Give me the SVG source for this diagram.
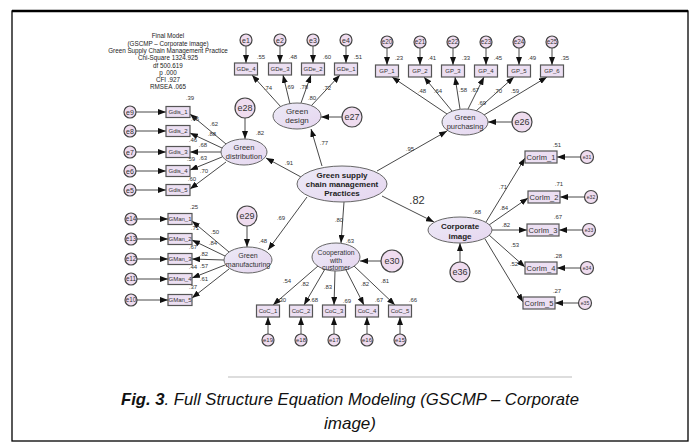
<svg xmlns="http://www.w3.org/2000/svg" width="692" height="442" viewBox="0 0 692 442">
<defs>
<linearGradient id="g" x1="0" y1="0" x2="1" y2="1"><stop offset="0" stop-color="#eceaf7"/><stop offset="1" stop-color="#e6d6ef"/></linearGradient>
<marker id="ah" viewBox="0 0 8 6" refX="8" refY="3" markerWidth="8" markerHeight="6" markerUnits="userSpaceOnUse" orient="auto"><path d="M0,0L8,3L0,6z" fill="#111"/></marker>
<style>
.bx{fill:#ecdff2;stroke:#555;stroke-width:1.2}
.el{fill:url(#g);stroke:#666;stroke-width:1}
.ec{fill:#efdcef;stroke:#444;stroke-width:1.2}
.ln{stroke:#333;stroke-width:0.9;fill:none;marker-end:url(#ah)}
text{font-family:"Liberation Sans",Arial,sans-serif;fill:#333;text-anchor:middle}
.v{font-size:6px}
.bl{font-size:6px}
.cl{font-size:7.5px}
.es{font-size:7px}
.eb{font-size:9px}
.nl{font-size:8px}
.bd{font-size:8px;font-weight:bold;fill:#222}
.st{font-size:6.3px;fill:#222}
.cap{font-size:17px;font-style:italic;fill:#111}
</style>
</defs>
<rect x="0" y="0" width="692" height="442" fill="#fff"/>
<rect x="12" y="11" width="676" height="430" fill="none" stroke="#000" stroke-width="1.3"/>
<line x1="12" y1="11" x2="688" y2="11" stroke="#000" stroke-width="2.5"/>

<g id="stats">
<text class="st" x="168" y="38.3">Final Model</text>
<text class="st" x="168" y="45.6">(GSCMP – Corporate image)</text>
<text class="st" x="168" y="52.9">Green Supply Chain Management Practice</text>
<text class="st" x="168" y="60.2">Chi-Square 1324.925</text>
<text class="st" x="168" y="67.5">df 500.619</text>
<text class="st" x="168" y="74.8">p .000</text>
<text class="st" x="168" y="82.1">CFI .927</text>
<text class="st" x="168" y="89.4">RMSEA .065</text>
</g>

<g id="connectors">
<path class="ln" d="M246,46V63"/><path class="ln" d="M280,46V63"/><path class="ln" d="M313,46V63"/><path class="ln" d="M346,46V63"/>
<path class="ln" d="M281,107L252,75"/><path class="ln" d="M290,104L283,75"/><path class="ln" d="M301,103L311,75"/><path class="ln" d="M311,106L340,75"/>
<path class="ln" d="M387,48V65"/><path class="ln" d="M420,48V65"/><path class="ln" d="M453,48V65"/><path class="ln" d="M486,48V65"/><path class="ln" d="M519,48V65"/><path class="ln" d="M552,48V65"/>
<path class="ln" d="M447,114L392,77"/><path class="ln" d="M452,111L424,77"/><path class="ln" d="M460,109L455,77"/><path class="ln" d="M468,109L484,77"/><path class="ln" d="M476,111L514,77"/><path class="ln" d="M484,115L547,77"/>
<path class="ln" d="M136,112H166"/><path class="ln" d="M136,131H166"/><path class="ln" d="M136,152H166"/><path class="ln" d="M136,171H166"/><path class="ln" d="M136,190H166"/>
<path class="ln" d="M226,144L190,114"/><path class="ln" d="M222,148L190,133"/><path class="ln" d="M221,152H190"/><path class="ln" d="M222,157L190,170"/><path class="ln" d="M226,162L190,189"/>
<path class="ln" d="M137,219H168"/><path class="ln" d="M137,239H168"/><path class="ln" d="M137,259H168"/><path class="ln" d="M137,279H168"/><path class="ln" d="M137,300H168"/>
<path class="ln" d="M229,252L192,221"/><path class="ln" d="M225,256L192,240"/><path class="ln" d="M224,260L192,259"/><path class="ln" d="M225,265L192,278"/><path class="ln" d="M229,269L192,298"/>
<path class="ln" d="M268,334V317"/><path class="ln" d="M301,334V317"/><path class="ln" d="M334,334V317"/><path class="ln" d="M367,334V317"/><path class="ln" d="M400,334V317"/>
<path class="ln" d="M318,266L273,305"/><path class="ln" d="M325,269L304,305"/><path class="ln" d="M335,271L334,305"/><path class="ln" d="M346,270L364,305"/><path class="ln" d="M354,266L395,305"/>
<path class="ln" d="M580.5,157H557"/><path class="ln" d="M584.5,197H560"/><path class="ln" d="M582.5,230H559"/><path class="ln" d="M580.5,268H557"/><path class="ln" d="M578.5,303H555"/>
<path class="ln" d="M486,222L525,158"/><path class="ln" d="M489,225L528,198"/><path class="ln" d="M492,230H527"/><path class="ln" d="M489,235L525,267"/><path class="ln" d="M485,239L523,302"/>
<path class="ln" d="M342,117H321"/><path class="ln" d="M512,122H488"/><path class="ln" d="M245,118V139"/><path class="ln" d="M247,226V247"/><path class="ln" d="M381,261H360"/><path class="ln" d="M460,262V243"/>
<path class="ln" d="M322,166L311,129"/><path class="ln" d="M377,171L447,131"/><path class="ln" d="M301,177L266,158"/><path class="ln" d="M307,197L268,250"/><path class="ln" d="M344,202L341,243"/><path class="ln" d="M382,196L434,222"/>
</g>

<g id="labels">
<text class="v" x="261" y="59">.55</text><text class="v" x="293" y="59">.48</text><text class="v" x="327" y="59">.60</text><text class="v" x="358" y="59">.51</text>
<text class="v" x="268" y="90">.74</text><text class="v" x="290" y="89">.69</text><text class="v" x="304" y="89">.78</text><text class="v" x="312" y="100">.80</text><text class="v" x="327" y="90">.72</text>
<text class="v" x="399" y="60">.23</text><text class="v" x="432" y="60">.41</text><text class="v" x="466" y="60">.33</text><text class="v" x="498" y="60">.45</text><text class="v" x="532" y="60">.49</text><text class="v" x="565" y="60">.35</text>
<text class="v" x="422" y="93">.48</text><text class="v" x="438" y="93">.64</text><text class="v" x="463" y="92">.58</text><text class="v" x="475" y="92">.67</text><text class="v" x="482" y="105">.69</text><text class="v" x="498" y="93">.70</text><text class="v" x="515" y="93">.59</text>
<text class="v" x="324" y="145">.77</text><text class="v" x="410" y="151">.95</text><text class="v" x="260" y="135">.82</text><text class="v" x="289" y="165">.91</text>
<text class="v" x="190" y="100">.39</text><text class="v" x="214" y="126">.62</text><text class="v" x="195" y="121">.45</text><text class="v" x="212" y="136">.88</text><text class="v" x="193" y="142">.46</text><text class="v" x="203" y="147">.68</text><text class="v" x="191" y="161">.59</text><text class="v" x="203" y="160">.63</text><text class="v" x="204" y="173">.70</text><text class="v" x="192" y="181">.60</text>
<text class="v" x="194" y="209">.25</text><text class="v" x="215" y="234">.50</text><text class="v" x="195" y="230">.71</text><text class="v" x="213" y="245">.84</text><text class="v" x="193" y="249">.67</text><text class="v" x="204" y="256">.82</text><text class="v" x="193" y="269">.44</text><text class="v" x="204" y="268">.57</text><text class="v" x="204" y="281">.61</text><text class="v" x="193" y="289">.37</text>
<text class="v" x="263" y="243">.48</text><text class="v" x="281" y="220">.69</text><text class="v" x="339" y="222">.80</text><text class="v" x="350" y="243">.63</text>
<text x="417" y="204" style="font-size:11px">.82</text>
<text class="v" x="287" y="283">.54</text><text class="v" x="305" y="286">.82</text><text class="v" x="328" y="289">.83</text><text class="v" x="365" y="286">.82</text><text class="v" x="385" y="283">.81</text>
<text class="v" x="282" y="302">.30</text><text class="v" x="314" y="302">.68</text><text class="v" x="347" y="303">.69</text><text class="v" x="379" y="302">.67</text><text class="v" x="413" y="302">.66</text>
<text class="v" x="477" y="214">.68</text>
<text class="v" x="557" y="147">.51</text><text class="v" x="559" y="186">.71</text><text class="v" x="558" y="219">.67</text><text class="v" x="558" y="258">.28</text><text class="v" x="557" y="293">.27</text>
<text class="v" x="503" y="189">.71</text><text class="v" x="504" y="210">.84</text><text class="v" x="506" y="227">.82</text><text class="v" x="515" y="247">.53</text><text class="v" x="514" y="266">.52</text>
</g>

<g id="GSCMP"><ellipse class="el" cx="342" cy="184" rx="45" ry="18"/>
<text class="bd" x="342" y="178">Green supply</text><text class="bd" x="342" y="187">chain management</text><text class="bd" x="342" y="196">Practices</text></g>

<g id="GreenDesign"><ellipse class="el" cx="297" cy="116" rx="24" ry="13"/><text class="nl" x="297" y="114">Green</text><text class="nl" x="297" y="123">design</text></g>
<g id="GreenPurchasing"><ellipse class="el" cx="465" cy="122" rx="23" ry="13"/><text class="nl" x="465" y="120" style="font-size:7.5px">Green</text><text class="nl" x="465" y="129" style="font-size:7.5px">purchasing</text></g>
<g id="GreenDistribution"><ellipse class="el" cx="244" cy="152" rx="23" ry="13"/><text class="nl" x="244" y="150" style="font-size:7.5px">Green</text><text class="nl" x="244" y="159" style="font-size:7.5px">distribution</text></g>
<g id="GreenManufacturing"><ellipse class="el" cx="248" cy="260" rx="24" ry="13"/><text class="nl" x="248" y="258" style="font-size:7px">Green</text><text class="nl" x="248" y="267" style="font-size:7px">manufacturing</text></g>
<g id="Cooperation"><ellipse class="el" cx="336" cy="257" rx="24" ry="14"/><text x="336" y="255" style="font-size:6.8px">Cooperation</text><text x="336" y="263" style="font-size:6.8px">with</text><text x="336" y="270" style="font-size:6.8px">customer</text></g>
<g id="CorporateImage"><ellipse class="el" cx="460" cy="230" rx="32" ry="13"/><text class="bd" x="460" y="229">Corporate</text><text class="bd" x="460" y="239">image</text></g>

<g id="GDe_4"><rect class="bx" x="234.5" y="63" width="23" height="12"/><text class="bl" x="246" y="71">GDe_4</text></g>
<g id="GDe_3"><rect class="bx" x="268.5" y="63" width="23" height="12"/><text class="bl" x="280" y="71">GDe_3</text></g>
<g id="GDe_2"><rect class="bx" x="301.5" y="63" width="23" height="12"/><text class="bl" x="313" y="71">GDe_2</text></g>
<g id="GDe_1"><rect class="bx" x="334.5" y="63" width="23" height="12"/><text class="bl" x="346" y="71">GDe_1</text></g>
<g id="e1"><circle class="ec" cx="246" cy="40" r="6"/><text class="es" x="246" y="42.5">e1</text></g>
<g id="e2"><circle class="ec" cx="280" cy="40" r="6"/><text class="es" x="280" y="42.5">e2</text></g>
<g id="e3"><circle class="ec" cx="313" cy="40" r="6"/><text class="es" x="313" y="42.5">e3</text></g>
<g id="e4"><circle class="ec" cx="346" cy="40" r="6"/><text class="es" x="346" y="42.5">e4</text></g>

<g id="GP_1"><rect class="bx" x="375.5" y="65" width="23" height="12"/><text class="bl" x="387" y="73">GP_1</text></g>
<g id="GP_2"><rect class="bx" x="408.5" y="65" width="23" height="12"/><text class="bl" x="420" y="73">GP_2</text></g>
<g id="GP_3"><rect class="bx" x="441.5" y="65" width="23" height="12"/><text class="bl" x="453" y="73">GP_3</text></g>
<g id="GP_4"><rect class="bx" x="474.5" y="65" width="23" height="12"/><text class="bl" x="486" y="73">GP_4</text></g>
<g id="GP_5"><rect class="bx" x="507.5" y="65" width="23" height="12"/><text class="bl" x="519" y="73">GP_5</text></g>
<g id="GP_6"><rect class="bx" x="540.5" y="65" width="23" height="12"/><text class="bl" x="552" y="73">GP_6</text></g>
<g id="e20"><circle class="ec" cx="387" cy="42" r="6"/><text x="387" y="44.3" style="font-size:6.3px">e20</text></g>
<g id="e21"><circle class="ec" cx="420" cy="42" r="6"/><text x="420" y="44.3" style="font-size:6.3px">e21</text></g>
<g id="e22"><circle class="ec" cx="453" cy="42" r="6"/><text x="453" y="44.3" style="font-size:6.3px">e22</text></g>
<g id="e23"><circle class="ec" cx="486" cy="42" r="6"/><text x="486" y="44.3" style="font-size:6.3px">e23</text></g>
<g id="e24"><circle class="ec" cx="519" cy="42" r="6"/><text x="519" y="44.3" style="font-size:6.3px">e24</text></g>
<g id="e25"><circle class="ec" cx="552" cy="42" r="6"/><text x="552" y="44.3" style="font-size:6.3px">e25</text></g>

<g id="Gdis_1"><rect class="bx" x="166" y="106.5" width="24" height="11"/><text class="bl" x="178" y="114">Gdis_1</text></g>
<g id="Gdis_2"><rect class="bx" x="166" y="125.5" width="24" height="11"/><text class="bl" x="178" y="133">Gdis_2</text></g>
<g id="Gdis_3"><rect class="bx" x="166" y="146.5" width="24" height="11"/><text class="bl" x="178" y="154">Gdis_3</text></g>
<g id="Gdis_4"><rect class="bx" x="166" y="165.5" width="24" height="11"/><text class="bl" x="178" y="173">Gdis_4</text></g>
<g id="Gdis_5"><rect class="bx" x="166" y="184.5" width="24" height="11"/><text class="bl" x="178" y="192">Gdis_5</text></g>
<g id="e9"><circle class="ec" cx="130" cy="112" r="6"/><text class="es" x="130" y="114.5">e9</text></g>
<g id="e8"><circle class="ec" cx="130" cy="131" r="6"/><text class="es" x="130" y="133.5">e8</text></g>
<g id="e7"><circle class="ec" cx="130" cy="152" r="6"/><text class="es" x="130" y="154.5">e7</text></g>
<g id="e6"><circle class="ec" cx="130" cy="171" r="6"/><text class="es" x="130" y="173.5">e6</text></g>
<g id="e5"><circle class="ec" cx="130" cy="190" r="6"/><text class="es" x="130" y="192.5">e5</text></g>

<g id="GMan_1"><rect class="bx" x="168" y="213.5" width="24" height="11"/><text class="bl" x="180" y="221">GMan_1</text></g>
<g id="GMan_2"><rect class="bx" x="168" y="233.5" width="24" height="11"/><text class="bl" x="180" y="241">GMan_2</text></g>
<g id="GMan_3"><rect class="bx" x="168" y="253.5" width="24" height="11"/><text class="bl" x="180" y="261">GMan_3</text></g>
<g id="GMan_4"><rect class="bx" x="168" y="273.5" width="24" height="11"/><text class="bl" x="180" y="281">GMan_4</text></g>
<g id="GMan_5"><rect class="bx" x="168" y="294.5" width="24" height="11"/><text class="bl" x="180" y="302">GMan_5</text></g>
<g id="e14"><circle class="ec" cx="131" cy="219" r="6"/><text x="131" y="221.3" style="font-size:6.3px">e14</text></g>
<g id="e13"><circle class="ec" cx="131" cy="239" r="6"/><text x="131" y="241.3" style="font-size:6.3px">e13</text></g>
<g id="e12"><circle class="ec" cx="131" cy="259" r="6"/><text x="131" y="261.3" style="font-size:6.3px">e12</text></g>
<g id="e11"><circle class="ec" cx="131" cy="279" r="6"/><text x="131" y="281.3" style="font-size:6.3px">e11</text></g>
<g id="e10"><circle class="ec" cx="131" cy="300" r="6"/><text x="131" y="302.3" style="font-size:6.3px">e10</text></g>

<g id="CoC_1"><rect class="bx" x="256.5" y="305" width="23" height="12"/><text class="bl" x="268" y="313">CoC_1</text></g>
<g id="CoC_2"><rect class="bx" x="289.5" y="305" width="23" height="12"/><text class="bl" x="301" y="313">CoC_2</text></g>
<g id="CoC_3"><rect class="bx" x="322.5" y="305" width="23" height="12"/><text class="bl" x="334" y="313">CoC_3</text></g>
<g id="CoC_4"><rect class="bx" x="355.5" y="305" width="23" height="12"/><text class="bl" x="367" y="313">CoC_4</text></g>
<g id="CoC_5"><rect class="bx" x="388.5" y="305" width="23" height="12"/><text class="bl" x="400" y="313">CoC_5</text></g>
<g id="e19"><circle class="ec" cx="268" cy="340" r="6"/><text x="268" y="342.2" style="font-size:6px">e19</text></g>
<g id="e18"><circle class="ec" cx="301" cy="340" r="6"/><text x="301" y="342.2" style="font-size:6px">e18</text></g>
<g id="e17"><circle class="ec" cx="334" cy="340" r="6"/><text x="334" y="342.2" style="font-size:6px">e17</text></g>
<g id="e16"><circle class="ec" cx="367" cy="340" r="6"/><text x="367" y="342.2" style="font-size:6px">e16</text></g>
<g id="e15"><circle class="ec" cx="400" cy="340" r="6"/><text x="400" y="342.2" style="font-size:6px">e15</text></g>

<g id="CorIm_1"><rect class="bx" x="525" y="151" width="32" height="12"/><text class="cl" x="541" y="159.7">CorIm_1</text></g>
<g id="CorIm_2"><rect class="bx" x="528" y="191" width="32" height="12"/><text class="cl" x="544" y="199.7">CorIm_2</text></g>
<g id="CorIm_3"><rect class="bx" x="527" y="224" width="32" height="12"/><text class="cl" x="543" y="232.7">CorIm_3</text></g>
<g id="CorIm_4"><rect class="bx" x="525" y="262" width="32" height="12"/><text class="cl" x="541" y="270.7">CorIm_4</text></g>
<g id="CorIm_5"><rect class="bx" x="523" y="297" width="32" height="12"/><text class="cl" x="539" y="305.7">CorIm_5</text></g>
<g id="e31"><circle class="ec" cx="587" cy="157" r="6.5"/><text x="587" y="158.8" style="font-size:5px">e31</text></g>
<g id="e32"><circle class="ec" cx="591" cy="197" r="6.5"/><text x="591" y="198.8" style="font-size:5px">e32</text></g>
<g id="e33"><circle class="ec" cx="589" cy="230" r="6.5"/><text x="589" y="231.8" style="font-size:5px">e33</text></g>
<g id="e34"><circle class="ec" cx="587" cy="268" r="6.5"/><text x="587" y="269.8" style="font-size:5px">e34</text></g>
<g id="e35"><circle class="ec" cx="585" cy="303" r="6.5"/><text x="585" y="304.8" style="font-size:5px">e35</text></g>

<g id="e27"><circle class="ec" cx="352" cy="117" r="10"/><text class="eb" x="352" y="120">e27</text></g>
<g id="e26"><circle class="ec" cx="522" cy="122" r="10"/><text class="eb" x="522" y="125">e26</text></g>
<g id="e28"><circle class="ec" cx="245" cy="108" r="10"/><text class="eb" x="245" y="111">e28</text></g>
<g id="e29"><circle class="ec" cx="247" cy="216" r="10"/><text class="eb" x="247" y="219">e29</text></g>
<g id="e30"><circle class="ec" cx="392" cy="261" r="11"/><text class="eb" x="392" y="264">e30</text></g>
<g id="e36"><circle class="ec" cx="460" cy="272" r="10"/><text class="eb" x="460" y="275">e36</text></g>

<g id="caption">
<line x1="228" y1="377" x2="572" y2="377" stroke="#bbb" stroke-width="1"/>
<text class="cap" x="350" y="405" textLength="458" lengthAdjust="spacingAndGlyphs"><tspan font-weight="bold">Fig. 3</tspan>. Full Structure Equation Modeling (GSCMP – Corporate</text>
<text class="cap" x="350" y="429">image)</text>
</g>
</svg>
